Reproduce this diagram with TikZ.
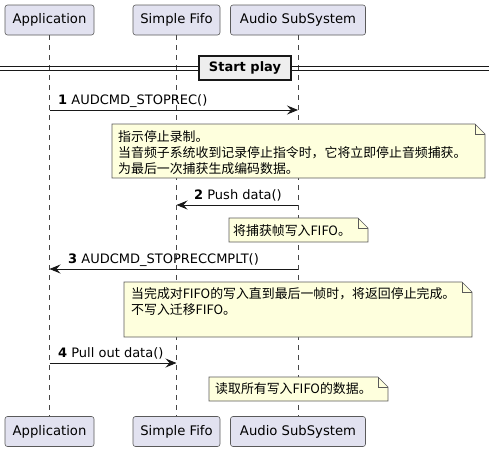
\documentclass[tikz,border=0pt]{standalone}
\usepackage{fontspec}
\setmainfont{DejaVu Sans}
\newfontfamily\cjk{Noto Sans CJK SC}
\usetikzlibrary{arrows.meta}
\definecolor{partfill}{HTML}{E2E2F0}
\definecolor{partdraw}{HTML}{5A5A5A}
\definecolor{linec}{HTML}{181818}
\definecolor{notefill}{HTML}{FEFFDD}
\definecolor{notedraw}{HTML}{5A5A5A}
\definecolor{divfill}{HTML}{EEEEEE}
\begin{document}
\begin{tikzpicture}[x=1pt,y=-1pt,
  part/.style={draw=partdraw, fill=partfill, rounded corners=2.5pt, line width=0.6pt,
    minimum height=30pt, inner sep=0pt, font=\fontsize{13.2}{15}\selectfont},
  life/.style={draw=linec!80, line width=0.5pt, dash pattern=on 5pt off 5pt},
  msg/.style={draw=linec, line width=0.9pt, -{Stealth[length=11pt,width=9pt,inset=4pt]}},
  mlabel/.style={anchor=base west, inner sep=0pt, font=\fontsize{13}{15}\selectfont},
  notebox/.style={draw=notedraw, fill=notefill, line width=0.6pt},
  notetext/.style={anchor=base west, inner sep=0pt, font=\cjk\fontsize{12.9}{16}\selectfont},
  divline/.style={draw=linec, line width=1pt},
  divbox/.style={draw=linec, fill=divfill, line width=1.6pt, minimum width=92pt, minimum height=24pt,
    inner sep=0pt, font=\bfseries\fontsize{13}{15}\selectfont}
]
\useasboundingbox (0,0) rectangle (495,451);

% participants
\node[part, minimum width=89pt] (appT) at (49.5,20) {Application};
\node[part, minimum width=87pt] (fifoT) at (176.5,20) {Simple Fifo};
\node[part, minimum width=135pt] (audT) at (298,20) {Audio SubSystem};
\node[part, minimum width=89pt] (appB) at (49.5,431.5) {Application};
\node[part, minimum width=87pt] (fifoB) at (176.5,431.5) {Simple Fifo};
\node[part, minimum width=135pt] (audB) at (298,431.5) {Audio SubSystem};

% lifelines
\draw[life] (appT.south) -- (appB.north);
\draw[life] (fifoT.south) -- (fifoB.north);
\draw[life] (audT.south) -- (audB.north);

% divider
\coordinate (dl) at (0,68);
\coordinate (dr) at (489,68);
\draw[divline] ([yshift=-2pt]dl) -- ([yshift=-2pt]dr);
\draw[divline] ([yshift=2pt]dl) -- ([yshift=2pt]dr);
\node[divbox] (div) at (245,68) {Start play};

% message coordinates
\coordinate (m1a) at (appT.south |- 0,110);
\coordinate (m1b) at (audT.south |- 0,110);
\coordinate (m2a) at (audT.south |- 0,205);
\coordinate (m2b) at (fifoT.south |- 0,205);
\coordinate (m3a) at (audT.south |- 0,269);
\coordinate (m3b) at (appT.south |- 0,269);
\coordinate (m4a) at (appT.south |- 0,363);
\coordinate (m4b) at (fifoT.south |- 0,363);

\draw[msg] (m1a) -- (m1b);
\node[mlabel] (l1) at (58,104) {\textbf{1} AUDCMD\_STOPREC()};
\draw[msg] (m2a) -- (m2b);
\node[mlabel] (l2) at (194,199.5) {\textbf{2} Push data()};
\draw[msg] (m3a) -- (m3b);
\node[mlabel] (l3) at (68,263.5) {\textbf{3} AUDCMD\_STOPRECCMPLT()};
\draw[msg] (m4a) -- (m4b);
\node[mlabel] (l4) at (58,357.5) {\textbf{4} Pull out data()};

% notes
\newcommand{\notepoly}[4]{%
  \draw[notebox] (#1,#2) -- (#3-10,#2) -- (#3,#2+10) -- (#3,#4) -- (#1,#4) -- cycle;
  \draw[notebox, fill=none] (#3-10,#2) -- (#3-10,#2+10) -- (#3,#2+10);
}
\notepoly{112}{124}{485}{178}
\node[notetext] (n1a) at (118,141) {指示停止录制。};
\node[notetext] (n1b) at (118,157) {当音频子系统收到记录停止指令时，它将立即停止音频捕获。};
\node[notetext] (n1c) at (118,173) {为最后一次捕获生成编码数据。};

\notepoly{229}{218}{368}{242}
\node[notetext] (n2) at (233,235) {将捕获帧写入FIFO。};

\notepoly{124}{282}{472}{337}
\node[notetext] (n3a) at (131,298) {当完成对FIFO的写入直到最后一帧时，将返回停止完成。};
\node[notetext] (n3b) at (131,314) {不写入迁移FIFO。};

\notepoly{209}{377}{388}{401}
\node[notetext] (n4) at (215,393) {读取所有写入FIFO的数据。};
\end{tikzpicture}
\end{document}
